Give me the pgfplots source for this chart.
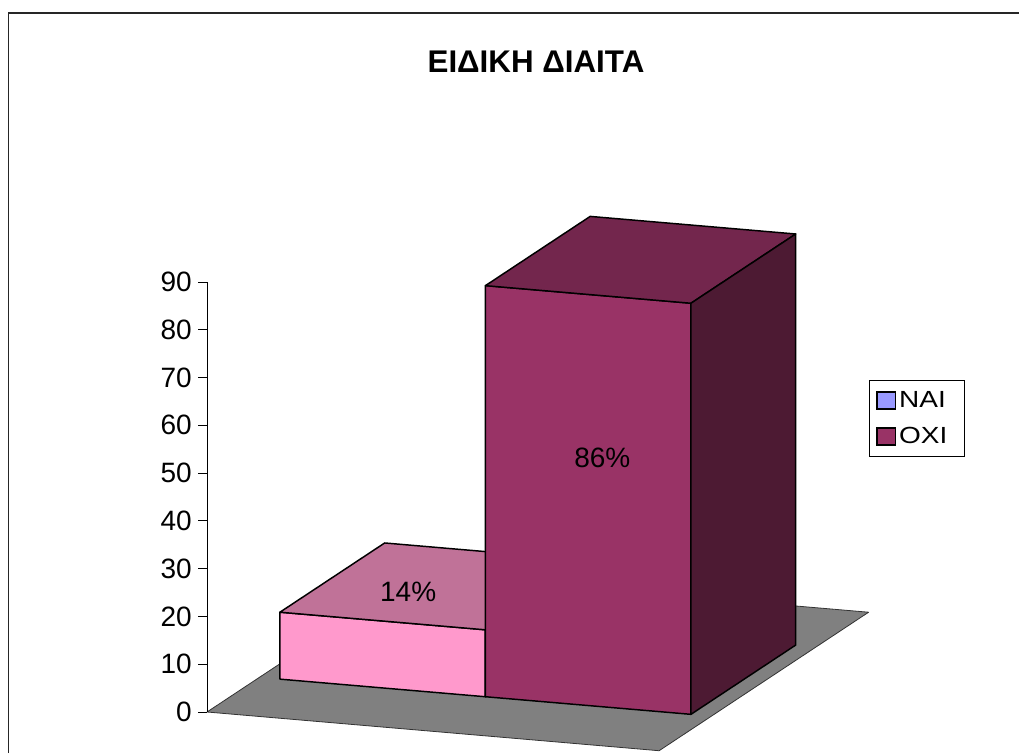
\documentclass[border=0pt]{standalone}
\usepackage{pgfplots}
\pgfplotsset{compat=1.18}
\usepackage{fontspec}
\setmainfont{Liberation Sans}
\newfontfamily\legfont[FakeStretch=1.2]{Liberation Sans}
\definecolor{naifront}{HTML}{FF99CC}
\definecolor{naitop}{HTML}{C07298}
\definecolor{oxifront}{HTML}{993366}
\definecolor{oxitop}{HTML}{73264D}
\definecolor{oxiside}{HTML}{4D1A33}
\definecolor{floorgray}{HTML}{808080}
\definecolor{naileg}{HTML}{9999FF}
\begin{document}
\begin{tikzpicture}
\useasboundingbox (0pt,0pt) rectangle (764.25pt,564.75pt);
\draw[line width=1.2pt, color=black!85] (6.5pt,0pt) -- (6.5pt,555pt) -- (764.25pt,555pt);
\node[font=\bfseries\fontsize{23.5}{28}\selectfont] at (402pt,518.25pt) {ΕΙΔΙΚΗ ΔΙΑΙΤΑ};

% 3D bars
\begin{axis}[hide axis, clip=false,
  x={(154.125pt,-13.2pt)}, y={(78.5625pt,51.9375pt)}, z={(0pt,3.585pt)},
  xmin=0, xmax=2.2, ymin=0, ymax=2, zmin=0, zmax=90,
  anchor=origin, at={(155.25pt,30.75pt)},
  every axis plot/.append style={line join=round}]
% floor
\addplot3[fill=floorgray, draw=black!80, line width=0.6pt] coordinates {(0,0,0) (2.2,0,0) (2.2,2,0) (0,2,0)} -- cycle;
% NAI = 14
\addplot3[fill=naifront, draw=black, line width=1.1pt] coordinates {(0.1,0.5,0) (1.1,0.5,0) (1.1,0.5,14) (0.1,0.5,14)} -- cycle;
\addplot3[fill=naitop, draw=black, line width=1.1pt] coordinates {(0.1,0.5,14) (1.1,0.5,14) (1.1,1.5,14) (0.1,1.5,14)} -- cycle;
\addplot3[fill=naitop, draw=black, line width=1.1pt] coordinates {(1.1,0.5,0) (1.1,1.5,0) (1.1,1.5,14) (1.1,0.5,14)} -- cycle;
% OXI = 86
\addplot3[fill=oxifront, draw=black, line width=1.1pt] coordinates {(1.1,0.5,0) (2.1,0.5,0) (2.1,0.5,86) (1.1,0.5,86)} -- cycle;
\addplot3[fill=oxitop, draw=black, line width=1.1pt] coordinates {(1.1,0.5,86) (2.1,0.5,86) (2.1,1.5,86) (1.1,1.5,86)} -- cycle;
\addplot3[fill=oxiside, draw=black, line width=1.1pt] coordinates {(2.1,0.5,0) (2.1,1.5,0) (2.1,1.5,86) (2.1,0.5,86)} -- cycle;
\node[font=\fontsize{21}{25}\selectfont] at (axis cs:0.52,0.9,14) {14\%};
\node[font=\fontsize{21}{25}\selectfont] at (axis cs:1.669,0.5,52) {86\%};
\end{axis}

% value axis and legend
\begin{axis}[scale only axis, width=566.25pt, height=322.5pt,
  anchor=south west, at={(155.25pt,30.75pt)},
  xmin=0, xmax=1, ymin=0, ymax=90,
  axis x line=none, axis y line=left,
  axis line style={-, line width=0.75pt, black},
  ytick={0,10,...,90},
  tick align=outside, major tick length=6.75pt,
  tick style={black, line width=0.75pt},
  /pgf/number format/assume math mode=true,
  yticklabel style={font=\fontsize{21}{25}\selectfont, inner sep=0pt, xshift=-4.5pt},
  legend style={at={(0.877,0.772)}, anchor=north west, draw=black, line width=0.75pt,
    fill=white, font=\legfont\fontsize{17.5}{21}\selectfont, inner xsep=5pt, inner ysep=6.2pt, row sep=9.5pt,
    /tikz/every even column/.append style={column sep=0pt}},
  legend cell align=left]
\addlegendimage{legend image code/.code={\draw[fill=naileg, draw=black, line width=1.1pt] (0pt,-6.4pt) rectangle (14pt,6.4pt);}}
\addlegendentry{ΝΑΙ\hspace*{6pt}}
\addlegendimage{legend image code/.code={\draw[fill=oxifront, draw=black, line width=1.1pt] (0pt,-6.4pt) rectangle (14pt,6.4pt);}}
\addlegendentry{ΟΧΙ\hspace*{6pt}}
\end{axis}
\end{tikzpicture}
\end{document}
